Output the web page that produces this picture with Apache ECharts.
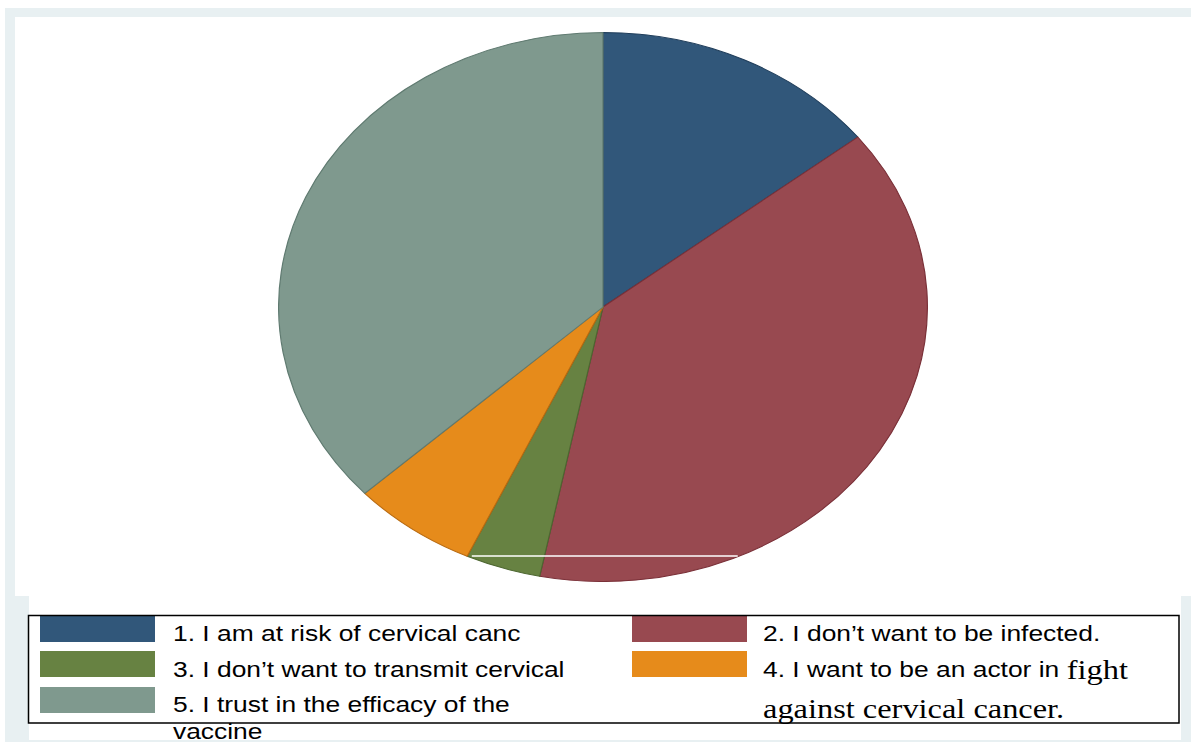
<!DOCTYPE html>
<html><head><meta charset="utf-8">
<script src="https://cdn.jsdelivr.net/npm/echarts@6/dist/echarts.min.js"></script>
<style>
html,body{margin:0;padding:0;background:#fff;overflow:hidden;}
#main{position:absolute;left:0;top:0;width:1191px;height:742px;}
#pie{position:absolute;left:328px;top:32px;width:550px;height:550px;transform:scaleX(1.1818);transform-origin:50% 50%;}
</style></head><body>
<div id="main"></div><div id="pie"></div>
<script>
// Data
const categories = [
  '1. I am at risk of cervical canc',
  '2. I don’t want to be infected.',
  '3. I don’t want to transmit cervical',
  '4. I want to be an actor in fight against cervical cancer.',
  '5. I trust in the efficacy of the vaccine'
];
const values = [23, 62, 6, 10, 59];
const colors = ['#31577a', '#984950', '#678242', '#e68b1b', '#7f998e'];
const edgeColors = ['#1f3d5a', '#7a3038', '#4c6630', '#b86a10', '#5f7a70'];
// Legend text lines (rich-text markup for serif parts)
const legendLines = [
  ['1. I am at risk of cervical canc'],
  ['2. I don’t want to be infected.'],
  ['3. I don’t want to transmit cervical'],
  ['4. I want to be an actor in {s|fight}', '{s|against cervical cancer.}'],
  ['5. I trust in the efficacy of the', 'vaccine']
];

const bg = '#e8f0f2';
const main = echarts.init(document.getElementById('main'), null, {renderer: 'svg'});
const g = [];
// frame bands
g.push({type:'rect', shape:{x:5,y:8,width:1186,height:9}, style:{fill:bg}, z:1});
g.push({type:'rect', shape:{x:5,y:8,width:10,height:588}, style:{fill:bg}, z:1});
g.push({type:'rect', shape:{x:5,y:596,width:24,height:146}, style:{fill:bg}, z:1});
g.push({type:'rect', shape:{x:1181,y:596,width:10,height:146}, style:{fill:bg}, z:1});
// legend swatches and text
const colX = [40, 632], textX = [173, 763];
const rowY = [616, 651, 687];
const rowTextY = [633, 669, 704];
const secondLineGap = [0, 0, 0, 39, 27];
categories.forEach((c, i) => {
  const col = i % 2, row = Math.floor(i / 2);
  g.push({type:'rect', shape:{x:colX[col], y:rowY[row], width:115, height:26}, style:{fill:colors[i]}, z:5});
  legendLines[i].forEach((ln, k) => {
    g.push({type:'text', x:textX[col], y:rowTextY[row] + k*secondLineGap[i], z:5,
      scaleX: 1.2,
      style:{text: ln, fill:'#000', font:'22px "Liberation Sans", Arial, sans-serif',
        verticalAlign:'middle', align:'left',
        rich:{
          s:{fontFamily:'"Liberation Serif","Times New Roman",serif', fontSize:27, fill:'#000'}
        }}});
  });
});
// legend box
g.push({type:'rect', shape:{x:28.5,y:615.5,width:1150.5,height:107.5}, style:{fill:'none', stroke:'#000', lineWidth:1.5}, z:6});
// bottom band
g.push({type:'rect', shape:{x:29,y:740,width:1152,height:2}, style:{fill:bg}, z:10});
main.setOption({animation:false, graphic:{elements:g}});

const pie = echarts.init(document.getElementById('pie'), null, {renderer: 'svg'});
pie.setOption({
  animation: false,
  series: [{
    type: 'pie',
    center: ['50%', '50%'],
    radius: 274.5,
    startAngle: 90,
    clockwise: true,
    label: {show: false},
    labelLine: {show: false},
    emphasis: {disabled: true},
    data: categories.map((c, i) => ({
      name: c, value: values[i],
      itemStyle: {color: colors[i], borderColor: edgeColors[i], borderWidth: 1}
    }))
  }],
  graphic: {elements: [
    {type:'line', shape:{x1:164, y1:524, x2:389, y2:524}, style:{stroke:'#fff', lineWidth:1.6}, z:100}
  ]}
});
</script>
</body></html>
